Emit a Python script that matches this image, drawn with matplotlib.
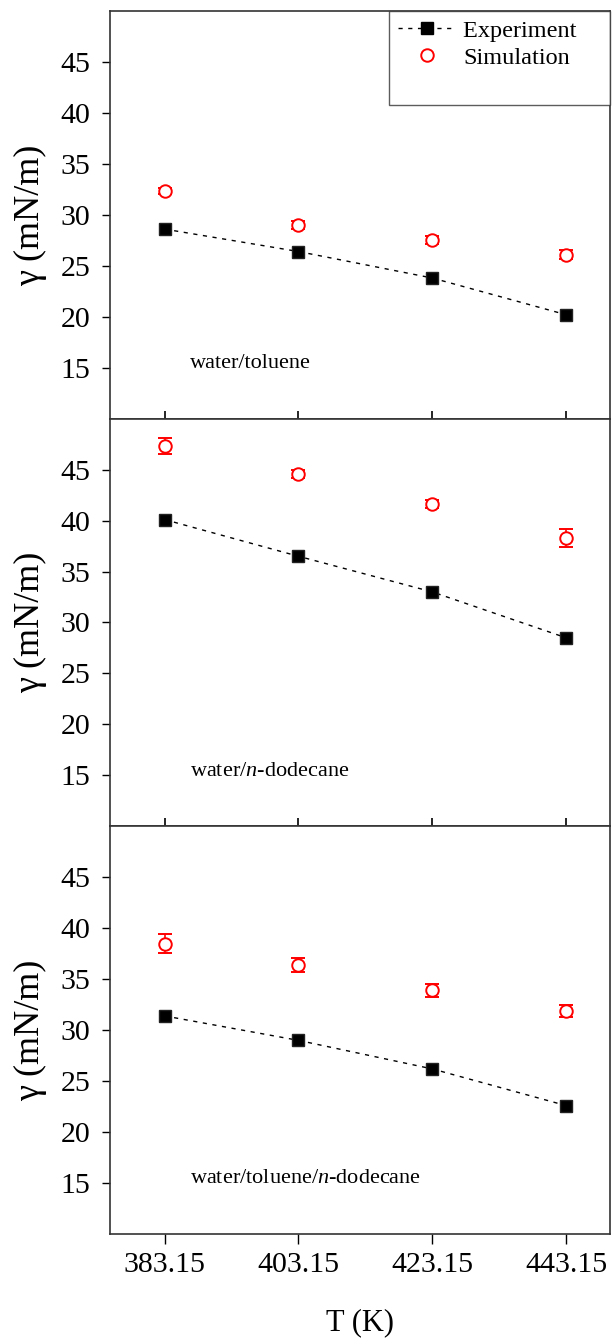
import matplotlib
matplotlib.use("Agg")
import matplotlib.pyplot as plt
from matplotlib.lines import Line2D

plt.rcParams['font.family'] = ['Liberation Serif', 'DejaVu Serif']
plt.rcParams['mathtext.fontset'] = 'custom'
plt.rcParams['mathtext.it'] = 'Liberation Serif:italic'
plt.rcParams['mathtext.rm'] = 'Liberation Serif'

# temperatures (K)
temps = [383.15, 403.15, 423.15, 443.15]
xtick_labels = ["383.15", "403.15", "423.15", "443.15"]

# interfacial tension, mN/m
exp_toluene = [28.6, 26.4, 23.8, 20.2]
sim_toluene = [32.3, 29.0, 27.5, 26.1]
err_toluene = [0.3, 0.4, 0.4, 0.4]

exp_dodecane = [40.1, 36.5, 33.0, 28.5]
sim_dodecane = [47.3, 44.6, 41.6, 38.3]
err_dodecane = [0.8, 0.4, 0.4, 0.9]

exp_mix = [31.4, 29.0, 26.2, 22.6]
sim_mix = [38.5, 36.4, 33.9, 31.9]
err_mix = [0.9, 0.7, 0.6, 0.6]

systems = ["water/toluene", "water/$\\mathit{n}$-dodecane",
           "water/toluene/$\\mathit{n}$-dodecane"]
exp_all = [exp_toluene, exp_dodecane, exp_mix]
sim_all = [sim_toluene, sim_dodecane, sim_mix]
err_all = [err_toluene, err_dodecane, err_mix]

fig, axes = plt.subplots(3, 1, figsize=(6.12, 13.4), dpi=100, sharex=True)
fig.subplots_adjust(left=0.1797, right=0.9967, top=0.9918, bottom=0.0791, hspace=0)

for i, ax in enumerate(axes):
    ax.plot(temps, exp_all[i], linestyle=(0, (3, 4)), color='black', linewidth=1.0,
            marker='s', markersize=8.5, markerfacecolor='black',
            markeredgecolor='#222222', zorder=3)
    ax.errorbar(temps, sim_all[i], yerr=err_all[i], fmt='o', markersize=9,
                markerfacecolor='white', markeredgecolor='red', markeredgewidth=1.4,
                ecolor='red', elinewidth=1.2, capsize=5, capthick=1.2, zorder=3)
    ax.set_xlim(375.0, 449.7)
    ax.set_ylim(10, 50)
    ax.set_yticks([15, 20, 25, 30, 35, 40, 45])
    ax.set_ylabel("γ (mN/m)", fontsize=26, labelpad=10)
    ax.text(0.16, 0.135, systems[i], transform=ax.transAxes, fontsize=16,
            va='center', ha='left')
    for sp in ax.spines.values():
        sp.set_linewidth(1.2)
        sp.set_color('#333333')
    ax.tick_params(axis='y', direction='out', length=6, width=1, labelsize=21.5, pad=8)
    if i < 2:
        ax.tick_params(axis='x', direction='inout', length=12, width=1.2)
    else:
        ax.tick_params(axis='x', direction='out', length=7, width=1, labelsize=21.5, pad=6)

axes[-1].set_xticks(temps)
axes[-1].set_xticklabels(xtick_labels)
axes[-1].set_xlabel("T (K)", fontsize=22, labelpad=22)

handles = [
    Line2D([], [], linestyle=(0, (3, 4)), color='black', linewidth=1.0, marker='s',
           markersize=8.5, markerfacecolor='black'),
    Line2D([], [], linestyle='none', marker='o', markersize=9, markerfacecolor='white',
           markeredgecolor='red', markeredgewidth=1.4),
    Line2D([], [], color='none'),
]
labels = ["Experiment    ", "Simulation", " "]
leg = axes[0].legend(handles, labels, loc='upper right', fontsize=17.5,
                     frameon=True, fancybox=False, edgecolor='#333333',
                     borderaxespad=0, handlelength=2.4, handletextpad=0.3,
                     labelspacing=0.22, borderpad=0.35, numpoints=1)
leg.get_frame().set_linewidth(1.0)

fig.savefig("out.png", dpi=100)
